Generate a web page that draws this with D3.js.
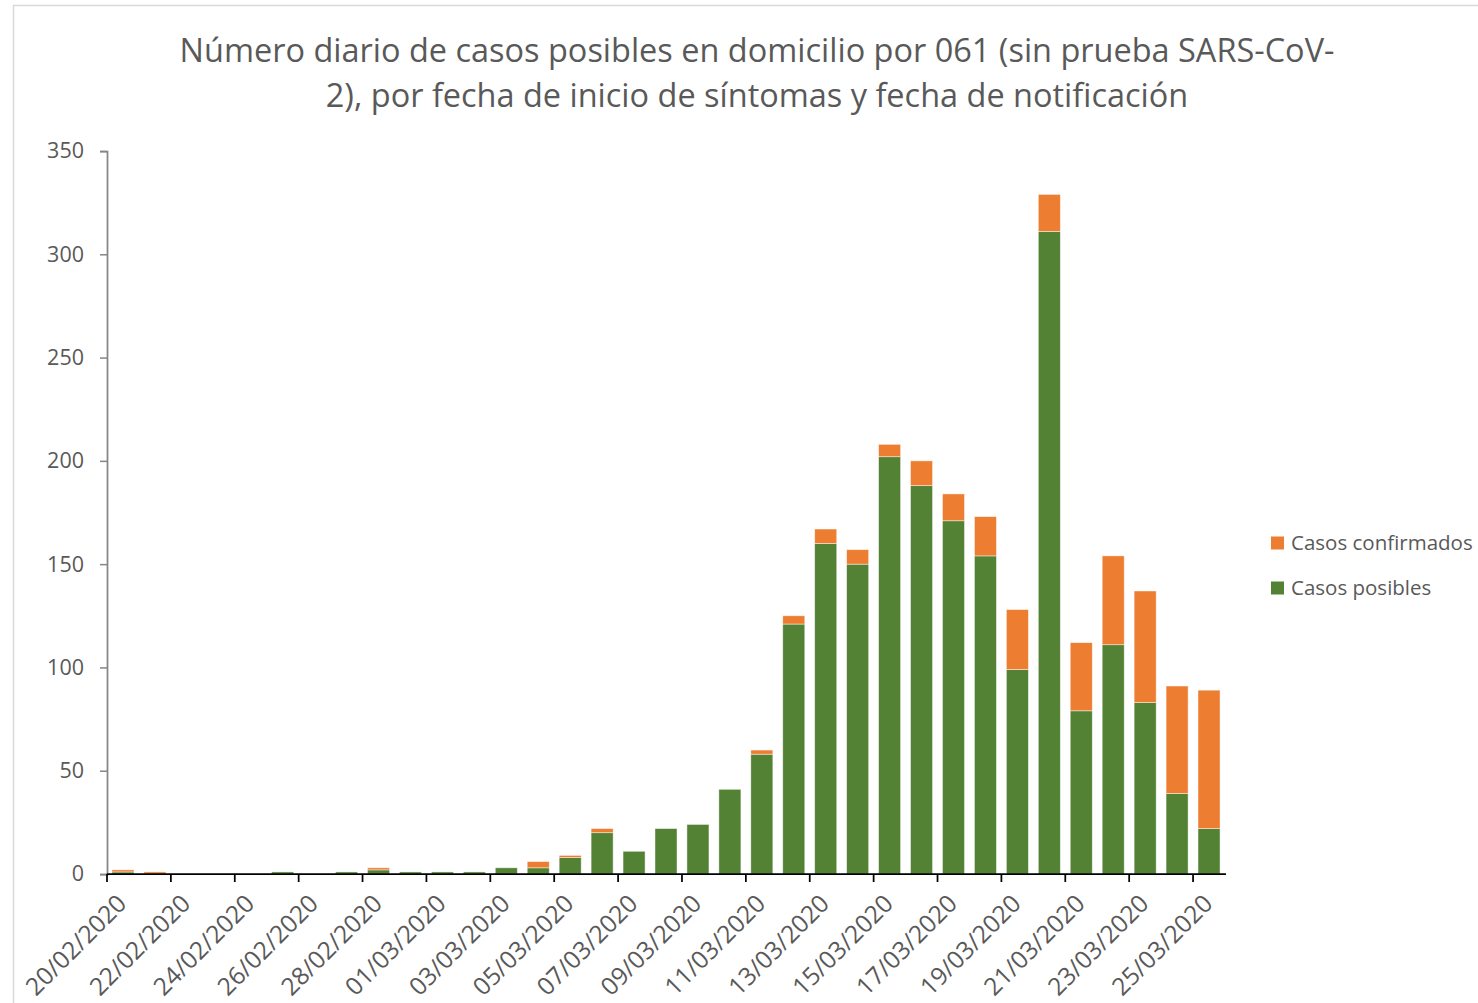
<!DOCTYPE html>
<html>
<head>
<meta charset="utf-8">
<script src="https://cdn.jsdelivr.net/npm/d3@7"></script>
<style>
  html, body { margin: 0; padding: 0; background: #fff; }
  svg { display: block; }
  text { font-family: "Open Sans", "Noto Sans", sans-serif; fill: #595959; }
</style>
</head>
<body>
<svg id="chart" width="1478" height="1003"></svg>
<script>
const titleLines = [
  "Número diario de casos posibles en domicilio por 061 (sin prueba SARS-CoV-",
  "2), por fecha de inicio de síntomas y fecha de notificación"
];
const dates = [
  "20/02/2020","21/02/2020","22/02/2020","23/02/2020","24/02/2020","25/02/2020",
  "26/02/2020","27/02/2020","28/02/2020","29/02/2020","01/03/2020","02/03/2020",
  "03/03/2020","04/03/2020","05/03/2020","06/03/2020","07/03/2020","08/03/2020",
  "09/03/2020","10/03/2020","11/03/2020","12/03/2020","13/03/2020","14/03/2020",
  "15/03/2020","16/03/2020","17/03/2020","18/03/2020","19/03/2020","20/03/2020",
  "21/03/2020","22/03/2020","23/03/2020","24/03/2020","25/03/2020"
];
const casosPosibles = [
  1,0,0,0,0,1,
  0,1,2,1,1,1,
  3,3,8,20,11,22,
  24,41,58,121,160,150,
  202,188,171,154,99,311,
  79,111,83,39,22
];
const casosConfirmados = [
  1,1,0,0,0,0,
  0,0,1,0,0,0,
  0,3,1,2,0,0,
  0,0,2,4,7,7,
  6,12,13,19,29,18,
  33,43,54,52,67
];
const xTickLabels = [
  "20/02/2020","22/02/2020","24/02/2020","26/02/2020","28/02/2020","01/03/2020",
  "03/03/2020","05/03/2020","07/03/2020","09/03/2020","11/03/2020","13/03/2020",
  "15/03/2020","17/03/2020","19/03/2020","21/03/2020","23/03/2020","25/03/2020"
];
const yTicks = [0, 50, 100, 150, 200, 250, 300, 350];
const seriesNames = ["Casos posibles", "Casos confirmados"];
const seriesColors = ["#548235", "#ED7D31"];

(function () {
const svg = d3.select("#chart");

// outer chart border
svg.append("rect")
  .attr("x", 13.5).attr("y", 5.5)
  .attr("width", 1500).attr("height", 1100)
  .attr("fill", "#fff").attr("stroke", "#d9d9d9").attr("stroke-width", 1.5);

// title (fit to measured width)
const titleTargets = [{w: 1155, y: 62}, {w: 865, y: 107}];
const titleCx = 757;
const tFirst = svg.append("text").attr("x", titleCx).attr("y", titleTargets[0].y)
  .attr("text-anchor", "middle").style("font-size", "30px").text(titleLines[0]);
const tSize = 30 * titleTargets[0].w / tFirst.node().getComputedTextLength();
tFirst.style("font-size", tSize + "px");
svg.append("text").attr("x", titleCx).attr("y", titleTargets[1].y)
  .attr("text-anchor", "middle").style("font-size", tSize + "px").text(titleLines[1]);

const pLeft = 107, pRight = 1225, pTop = 151, pBottom = 874;

const x = d3.scaleBand().domain(dates).range([pLeft, pRight])
  .paddingInner(0.31).paddingOuter(0.155);
const y = d3.scaleLinear().domain([0, 350]).range([pBottom, pTop]);

// stacked bars
const rows = dates.map((d, i) => ({date: d, posibles: casosPosibles[i], confirmados: casosConfirmados[i]}));
const stack = d3.stack().keys(["posibles", "confirmados"]);
const layers = stack(rows);

svg.append("g").selectAll("g").data(layers).join("g")
  .attr("fill", (d, i) => seriesColors[i])
  .selectAll("rect").data(d => d).join("rect")
  .attr("x", d => x(d.data.date))
  .attr("width", x.bandwidth())
  .attr("y", d => y(d[1]))
  .attr("height", d => y(d[0]) - y(d[1]))
  .attr("stroke", d => (d[1] - d[0]) > 0 ? "rgba(255,255,255,0.6)" : "none")
  .attr("stroke-width", 0.75);

// y axis
const yAxis = svg.append("g").attr("transform", `translate(${pLeft},0)`)
  .call(d3.axisLeft(y).tickValues(yTicks).tickSize(7).tickPadding(16));
yAxis.select(".domain").attr("stroke", "#868686").attr("stroke-width", 1.75);
yAxis.selectAll(".tick line").attr("stroke", "#868686").attr("stroke-width", 1.5);
yAxis.selectAll(".tick text").style("font-size", "21.5px").style("font-family", "'Open Sans', sans-serif").attr("fill", "#595959");

// x axis line
svg.append("line").attr("x1", pLeft).attr("x2", pRight + 1)
  .attr("y1", pBottom).attr("y2", pBottom)
  .attr("stroke", "#000").attr("stroke-width", 1.75);

// x tick marks at left boundary of every second category
const step = x.step();
svg.append("g").selectAll("line").data(xTickLabels).join("line")
  .attr("x1", d => x(d) - (step - x.bandwidth()) / 2)
  .attr("x2", d => x(d) - (step - x.bandwidth()) / 2)
  .attr("y1", pBottom).attr("y2", pBottom + 8)
  .attr("stroke", "#000").attr("stroke-width", 1.75);

// x labels
svg.append("g").selectAll("text").data(xTickLabels).join("text")
  .attr("transform", d => `translate(${x(d) + x.bandwidth() / 2 - 1},${pBottom + 25}) rotate(-45)`)
  .attr("text-anchor", "end")
  .attr("dy", "0.35em")
  .style("font-size", "24.5px")
  .text(d => d);

// legend
const legendItems = [
  {name: seriesNames[1], color: seriesColors[1], cy: 543},
  {name: seriesNames[0], color: seriesColors[0], cy: 588}
];
const lg = svg.append("g").selectAll("g").data(legendItems).join("g");
lg.append("rect").attr("x", 1271).attr("y", d => d.cy - 6.5)
  .attr("width", 13).attr("height", 13).attr("fill", d => d.color);
lg.append("text").attr("x", 1291).attr("y", d => d.cy).attr("dy", "0.35em")
  .style("font-size", "20.5px").text(d => d.name);
})();
</script>
</body>
</html>
